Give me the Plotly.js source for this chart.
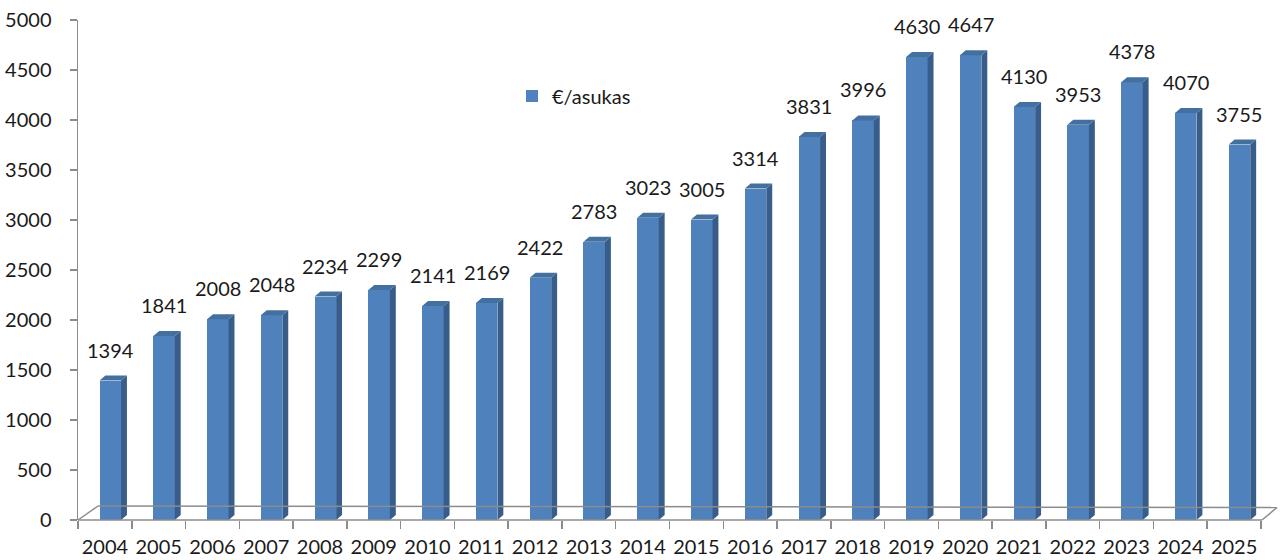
<!DOCTYPE html>
<html>
<head>
<meta charset="utf-8">
<script src="https://cdn.plot.ly/plotly-3.0.1.min.js"></script>
<style>html,body{margin:0;padding:0;background:#fff;}#chart{width:1280px;height:560px;}</style>
</head>
<body>
<div id="chart"></div>
<script>
const years = ["2004","2005","2006","2007","2008","2009","2010","2011","2012","2013","2014","2015","2016","2017","2018","2019","2020","2021","2022","2023","2024","2025"];
const values = [1394,1841,2008,2048,2234,2299,2141,2169,2422,2783,3023,3005,3314,3831,3996,4630,4647,4130,3953,4378,4070,3755];
const seriesName = "€/asukas";

// 3D styling geometry (in axis units)
const faceOffset = 0.40, faceWidth = 0.40, depthX = 0.11, depthY = 50;
const FRONT = "#4F81BD", SIDE = "#385D8A", TOP = "#43709F";
const FONT = "Lato, 'Open Sans', sans-serif";
const TXT = "#1a1a1a";
const FS = 20;

const centers = years.map((_, i) => i + faceOffset + faceWidth / 2);

const sideX = [], sideY = [], topX = [], topY = [];
values.forEach((v, i) => {
  const x0 = i + faceOffset, x1 = x0 + faceWidth;
  sideX.push(x1, x1 + depthX, x1 + depthX, x1, x1, null);
  sideY.push(0, depthY, v + depthY, v, 0, null);
  topX.push(x0, x1, x1 + depthX, x0 + depthX, x0, null);
  topY.push(v, v, v + depthY, v + depthY, v, null);
});

const traces = [
  {type: "bar", x: centers, y: values, width: faceWidth, name: seriesName,
   marker: {color: FRONT, line: {width: 0}}, hoverinfo: "skip", showlegend: true},
  {type: "scatter", x: sideX, y: sideY, mode: "lines", fill: "toself", fillcolor: SIDE,
   line: {width: 0, color: SIDE}, showlegend: false, hoverinfo: "skip"},
  {type: "scatter", x: topX, y: topY, mode: "lines", fill: "toself", fillcolor: TOP,
   line: {width: 0, color: TOP}, showlegend: false, hoverinfo: "skip"},
  {type: "scatter", x: [0, 22], y: [0, 0], xaxis: "x2", mode: "markers",
   marker: {opacity: 0}, showlegend: false, hoverinfo: "skip"}
];

const labelAnnotations = values.map((v, i) => ({
  x: centers[i], y: v, xref: "x", yref: "y", text: String(v), showarrow: false,
  xanchor: "center", yanchor: "bottom", yshift: 17,
  font: {family: FONT, size: FS, color: TXT}
}));

const pxX = px => (px - 78) / 1183;
const pxY = py => (520 - py) / 500;
const floorLine = {color: "#8c8c8c", width: 1.5};

const layout = {
  width: 1280, height: 560,
  margin: {l: 78, r: 19, t: 20, b: 40},
  paper_bgcolor: "#ffffff", plot_bgcolor: "rgba(0,0,0,0)",
  font: {family: FONT, color: TXT},
  showlegend: true,
  legend: {x: pxX(512), y: pxY(96), xanchor: "left", yanchor: "middle",
           font: {family: FONT, size: FS, color: TXT}, bgcolor: "rgba(0,0,0,0)"},
  bargap: 0,
  xaxis: {range: [0, 22], showgrid: false, zeroline: false, showline: false,
          tickmode: "array", tickvals: centers.map(c => c - 0.1), ticktext: years,
          ticks: "", ticklabelstandoff: 13,
          tickfont: {family: FONT, size: FS, color: TXT}, fixedrange: true},
  xaxis2: {overlaying: "x", range: [0, 22], showgrid: false, zeroline: false, showline: false,
           tickmode: "array", tickvals: years.map((_, i) => i).concat([22]),
           ticktext: years.map(() => "").concat([""]), ticks: "outside", ticklen: 8,
           tickcolor: "#8c8c8c", tickwidth: 1.5, side: "bottom", anchor: "y"},
  yaxis: {range: [0, 5000], dtick: 500, showgrid: false, zeroline: false,
          showline: true, linecolor: "#8c8c8c", linewidth: 1.5,
          ticks: "outside", ticklen: 7, tickcolor: "#8c8c8c", tickwidth: 1.5,
          ticklabelstandoff: 14,
          tickfont: {family: FONT, size: FS, color: TXT}, fixedrange: true},
  annotations: labelAnnotations,
  shapes: [
    {type: "line", xref: "paper", yref: "paper", x0: pxX(78), y0: pxY(520), x1: pxX(1262), y1: pxY(520), line: floorLine},
    {type: "line", xref: "paper", yref: "paper", x0: pxX(1262), y0: pxY(520), x1: pxX(1277), y1: pxY(507.5), line: floorLine},
    {type: "line", xref: "paper", yref: "paper", x0: pxX(98), y0: pxY(506), x1: pxX(1277), y1: pxY(507.5), line: floorLine},
    {type: "line", xref: "paper", yref: "paper", x0: pxX(78), y0: pxY(520), x1: pxX(98), y1: pxY(506), line: floorLine}
  ]
};

Plotly.newPlot("chart", traces, layout, {displayModeBar: false, staticPlot: true});
</script>
</body>
</html>
